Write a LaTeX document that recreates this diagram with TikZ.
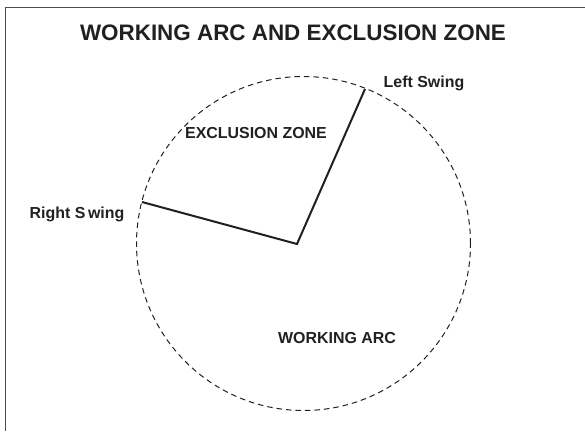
\documentclass[tikz,border=0pt]{standalone}
\usepackage{fontspec}
\setmainfont{Liberation Sans}
\usepackage{tikz}
\usetikzlibrary{positioning, calc}
\definecolor{inkgray}{RGB}{35, 31, 32}

\tikzset{
  arclabel/.style={font=\bfseries\fontsize{16}{19}\selectfont, text=inkgray, inner sep=0pt},
  swingline/.style={draw=inkgray, line width=2bp},
  zoneedge/.style={draw=inkgray, line width=1bp, dash pattern=on 5.5bp off 4bp}
}

\begin{document}
\begin{tikzpicture}[x=1bp, y=1bp]
  \useasboundingbox (0,0) rectangle (585,431);
  % frame (top and left edges only)
  \draw[inkgray!80, line width=1.5bp] (5.5,0) -- (5.5,423.5) -- (585,423.5);

  \node[font=\bfseries\fontsize{22.5}{26}\selectfont, text=inkgray, inner sep=0pt] (title) at (293,398) {WORKING ARC AND EXCLUSION ZONE};

  % dashed swing circle
  \coordinate (centre) at (303.5,187.5);
  \draw[zoneedge] (centre) circle[radius=167];

  \coordinate (pivot) at (297,187);
  \coordinate (lefttip) at (365,342);
  \coordinate (righttip) at (142,229);
  \draw[swingline, line join=miter] (righttip) -- (pivot) -- (lefttip);

  \node[arclabel] (leftlbl) at (424,348) {Left Swing};
  \node[arclabel] (rightlbl) at (77,217) {Right S\,wing};
  \node[arclabel] (exclbl) at (256,298) {EXCLUSION ZONE};
  \node[arclabel] (worklbl) at (337,92.5) {WORKING ARC};
\end{tikzpicture}
\end{document}
